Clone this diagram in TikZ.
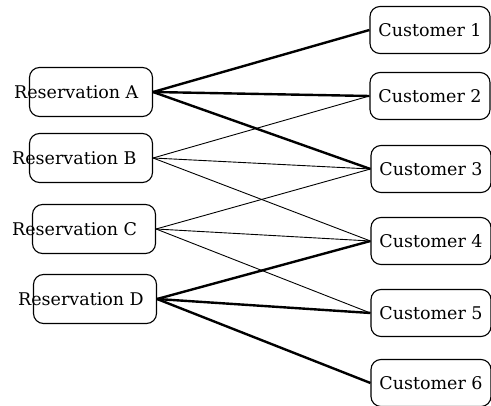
\documentclass[tikz,border=0pt]{standalone}
\usepackage{fontspec}
\setmainfont{DejaVu Serif}
\usepackage{tikz}
\usetikzlibrary{positioning}

\begin{document}
\begin{tikzpicture}[
		x=1pt,y=-1pt,
		every node/.style={font=\fontsize{17.5}{20}\selectfont},
		resbox/.style={draw,line width=1.1pt,rounded corners=10pt,minimum width=123pt,minimum height=49pt,inner sep=0pt},
		custbox/.style={draw,line width=1.1pt,rounded corners=10pt,minimum width=120pt,minimum height=47pt,inner sep=0pt},
		heavy/.style={line width=2.4pt},
		light/.style={line width=0.9pt}
		]
		\useasboundingbox (0,0) rectangle (491,406);
		% reservations
		\node[resbox] (resA) at (91,92) {};
		\node[resbox] (resB) at (91,158) {};
		\node[resbox] (resC) at (94,229) {};
		\node[resbox] (resD) at (95,299) {};
		\node[anchor=west,inner sep=0pt] (resAlbl) at (14,92) {Reservation A};
		\node[anchor=west,inner sep=0pt] (resBlbl) at (12,158) {Reservation B};
		\node[anchor=west,inner sep=0pt] (resClbl) at (12,229) {Reservation C};
		\node[anchor=west,inner sep=0pt] (resDlbl) at (18,299) {Reservation D};
		% customers
		\node[custbox] (cust1) at (430,30) {Customer 1};
		\node[custbox] (cust2) at (430,96) {Customer 2};
		\node[custbox] (cust3) at (431,169) {Customer 3};
		\node[custbox] (cust4) at (431,241) {Customer 4};
		\node[custbox] (cust5) at (431,313) {Customer 5};
		\node[custbox] (cust6) at (431,383) {Customer 6};
		% links
		\draw[heavy] (resA.east) -- (cust1.west);
		\draw[heavy] (resA.east) -- (cust2.west);
		\draw[heavy] (resA.east) -- (cust3.west);
		\draw[light] (resB.east) -- (cust2.west);
		\draw[light] (resB.east) -- (cust3.west);
		\draw[light] (resB.east) -- (cust4.west);
		\draw[light] (resC.east) -- (cust3.west);
		\draw[light] (resC.east) -- (cust4.west);
		\draw[light] (resC.east) -- (cust5.west);
		\draw[heavy] (resD.east) -- (cust4.west);
		\draw[heavy] (resD.east) -- (cust5.west);
		\draw[heavy] (resD.east) -- (cust6.west);
	\end{tikzpicture}
\end{document}
